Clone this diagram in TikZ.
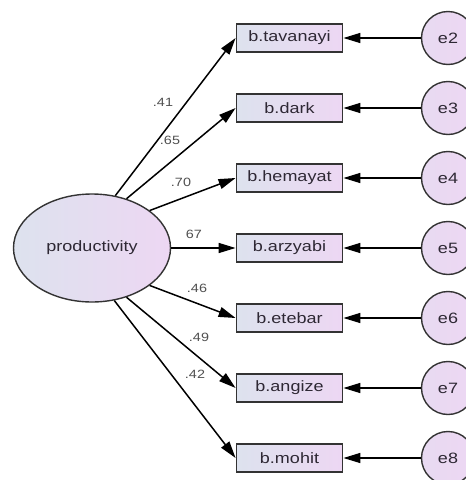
\documentclass[tikz,border=0pt]{standalone}
\usepackage{fontspec}
\newfontfamily\amosfont[FakeStretch=1.2]{Liberation Sans}
\usetikzlibrary{arrows.meta,shapes.geometric}
\definecolor{amosblue}{HTML}{DDE2EE}
\definecolor{amospink}{HTML}{EDD7F3}
\definecolor{amosline}{HTML}{333333}
\definecolor{amostext}{HTML}{2E2834}
\definecolor{amoslabel}{HTML}{505050}
\tikzset{
  obs/.style={draw=amosline,line width=1.8pt,left color=amosblue,right color=amospink,
    minimum width=106pt,minimum height=28pt,inner sep=0pt,text=amostext,
    font=\amosfont\fontsize{15}{15}\selectfont},
  lat/.style={ellipse,draw=amosline,line width=1.4pt,left color=amosblue,right color=amospink,
    minimum width=157pt,minimum height=108pt,inner sep=0pt,text=amostext,
    font=\amosfont\fontsize{15}{15}\selectfont},
  err/.style={circle,draw=amosline,line width=1.4pt,left color=amospink!70!amosblue,right color=amospink,
    minimum size=53pt,inner sep=0pt,text=amostext,font=\amosfont\fontsize{15}{15}\selectfont},
  reg/.style={-{Triangle[length=17pt,width=10pt]},line width=1.5pt},
  load/.style={inner sep=0pt,text=amoslabel,font=\amosfont\fontsize{12}{12}\selectfont}
}
\begin{document}
\begin{tikzpicture}[x=1pt,y=-1pt]
  \clip (0,0) rectangle (466,480);
  \fill[white] (0,0) rectangle (466,480);
  \node[lat] (prod) at (92,248) {productivity};
  % indicators, their errors and loadings
  \foreach \name/\ang/\w/\lx/\ly [count=\i from 2] in {%
          tavanayi/66/.41/163/102, dark/55/.65/170/140,%
          hemayat/33/.70/181/182, arzyabi/0/67/194/234,%
          etebar/-33/.46/197/288, angize/-55/.49/199/337,%
          mohit/-67/.42/195/374}
  {\pgfmathsetmacro\yy{38+70*(\i-2)}
  \node[obs] (\name) at (289.5,\yy) {b.\name};
  \node[err] (e\i) at (448,\yy) {e\i};
  \draw[reg] (prod.\ang) -- (\name.west);
  \draw[reg] (e\i) -- (\name);
  \node[load] at (\lx,\ly) {\w};}
\end{tikzpicture}
\end{document}
